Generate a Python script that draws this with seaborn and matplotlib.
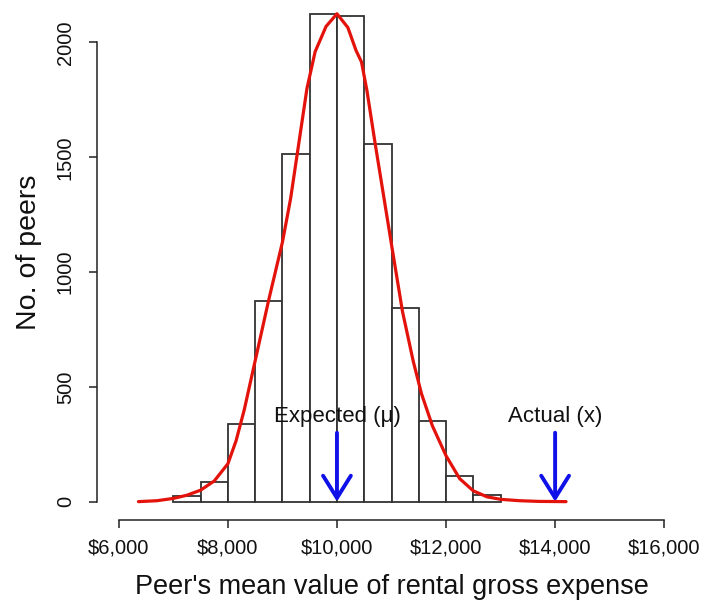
import numpy as np
import pandas as pd
import matplotlib
matplotlib.use("Agg")
import matplotlib.pyplot as plt
import seaborn as sns

# Histogram bins (lower/upper edges) and counts of peers per bin
bin_edges = [7000, 7500, 8000, 8500, 9000, 9500, 10000, 10500,
             11000, 11500, 12000, 12500, 13000]
bin_counts = [25, 84, 338, 876, 1515, 2125, 2115, 1556, 844, 350, 110, 29]

# Smoothed density curve, scaled to counts
curve_x = [6360, 6700, 7000, 7250, 7500, 7750, 8000, 8150, 8300, 8450,
           8600, 8750, 9000, 9150, 9300, 9450, 9600, 9800, 10000, 10200,
           10350, 10450, 10550, 10700, 10850, 11000, 11200, 11400, 11550,
           11750, 12000, 12250, 12500, 12750, 13000, 13350, 13700, 14200]
curve_y = [0, 4, 14, 28, 50, 90, 165, 265, 400, 560,
           720, 880, 1130, 1320, 1560, 1800, 1960, 2070, 2125, 2065,
           1965, 1915, 1790, 1560, 1340, 1120, 830, 610, 470,
           330, 200, 100, 47, 21, 10, 4, 1, 0]

# Reference markers
expected_value = 10000
actual_value = 14000
marker_labels = ["Expected (\u03bc)", "Actual (x)"]

x_ticks = [6000, 8000, 10000, 12000, 14000, 16000]
x_tick_labels = ["$6,000", "$8,000", "$10,000", "$12,000", "$14,000", "$16,000"]
y_ticks = [0, 500, 1000, 1500, 2000]

sns.set_style("white")
plt.rcParams["font.family"] = ["Liberation Sans", "DejaVu Sans"]

fig = plt.figure(figsize=(7.07, 6.07), dpi=100)
ax = fig.add_axes([97 / 707, 87 / 607, 589 / 707, 520 / 607])

centers = [(a + b) / 2 for a, b in zip(bin_edges[:-1], bin_edges[1:])]
hist_df = pd.DataFrame({"value": centers, "count": bin_counts})
sns.histplot(data=hist_df, x="value", weights="count", bins=bin_edges,
             color="white", edgecolor="#333333", linewidth=1.3, alpha=1,
             ax=ax, zorder=2)

curve_df = pd.DataFrame({"value": curve_x, "count": curve_y})
sns.lineplot(data=curve_df, x="value", y="count", color="#e3120b",
             linewidth=2.3, ax=ax, zorder=3, sort=False)

for xv, label in zip([expected_value, actual_value], marker_labels):
    ax.annotate("", xy=(xv, 0), xytext=(xv, 300),
                arrowprops=dict(arrowstyle="->,head_length=0.8,head_width=0.5",
                                mutation_scale=20, color="#1010e8", lw=2.8,
                                shrinkA=0, shrinkB=0),
                zorder=4)
    ax.text(xv, 372, label, ha="center", va="center", fontsize=16,
            color="#111111", zorder=5)

ax.set_xlim(5600, 16400)
ax.set_ylim(-80, 2185)

for side in ["top", "right"]:
    ax.spines[side].set_visible(False)
for side in ["left", "bottom"]:
    ax.spines[side].set_color("#222222")
    ax.spines[side].set_linewidth(1.1)
ax.spines["left"].set_bounds(0, 2000)
ax.spines["bottom"].set_bounds(6000, 16000)

ax.set_xticks(x_ticks)
ax.set_xticklabels(x_tick_labels)
ax.set_yticks(y_ticks)
ax.set_yticklabels([str(v) for v in y_ticks], rotation=90, va="center")
ax.tick_params(axis="both", direction="out", length=6, width=1.1,
               color="#222222", labelsize=14.5, labelcolor="#111111",
               bottom=True, left=True)
ax.tick_params(axis="x", pad=7)
ax.tick_params(axis="y", pad=10)

ax.set_xlabel("Peer's mean value of rental gross expense", fontsize=19.5,
              color="#111111", labelpad=12)
ax.set_ylabel("No. of peers", fontsize=20.5, color="#111111")
ax.yaxis.set_label_coords(-0.093, 0.515)

fig.savefig("out.png", dpi=100, facecolor="white")
